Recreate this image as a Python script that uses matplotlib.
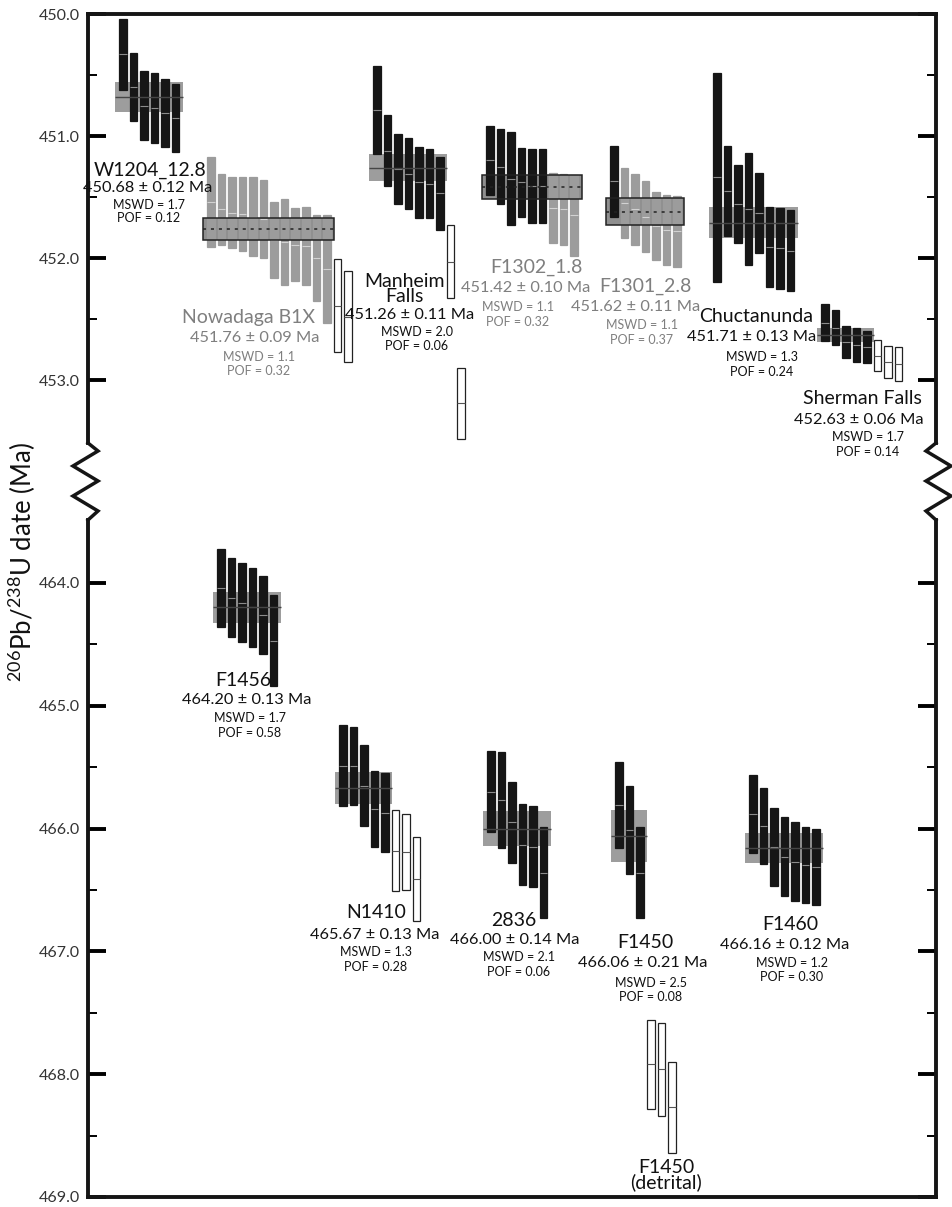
import matplotlib
matplotlib.use('Agg')
import matplotlib.pyplot as plt
from matplotlib.lines import Line2D
from matplotlib.ticker import MultipleLocator, FixedLocator, FormatStrFormatter

plt.rcParams['font.family'] = ['Lato', 'DejaVu Sans']
plt.rcParams['mathtext.fontset'] = 'custom'
plt.rcParams['mathtext.rm'] = 'Lato'

# ---- data: single-grain 206Pb/238U dates (Ma) and 2s errors ----
# kinds: k = used (black), g = used (grey series), o = excluded (open)
w1204 = [450.33, 450.60, 450.75, 450.77, 450.81, 450.85]
w1204_err = [0.29, 0.28, 0.28, 0.29, 0.28, 0.28]
w1204_kind = 'kkkkkk'

nowadaga = [451.54, 451.60, 451.63, 451.64, 451.66, 451.68, 451.85, 451.87,
            451.89, 451.90, 452.00, 452.09, 452.39, 452.48]
nowadaga_err = [0.37, 0.29, 0.29, 0.30, 0.32, 0.32, 0.31, 0.35, 0.30, 0.32,
                0.35, 0.44, 0.38, 0.37]
nowadaga_kind = 'gggggggggggg' + 'oo'

manheim = [450.79, 451.12, 451.27, 451.31, 451.38, 451.39, 451.47, 452.03, 453.19]
manheim_err = [0.36, 0.29, 0.29, 0.29, 0.29, 0.28, 0.30, 0.30, 0.29]
manheim_kind = 'kkkkkkkoo'

f1302 = [451.20, 451.25, 451.35, 451.38, 451.41, 451.41, 451.59, 451.60, 451.65]
f1302_err = [0.28, 0.31, 0.38, 0.28, 0.30, 0.30, 0.29, 0.29, 0.33]
f1302_kind = 'kkkkkkggg'

f1301 = [451.37, 451.55, 451.60, 451.66, 451.74, 451.77, 451.78]
f1301_err = [0.29, 0.29, 0.29, 0.29, 0.28, 0.29, 0.29]
f1301_kind = 'kgggggg'

chuct = [451.34, 451.45, 451.56, 451.60, 451.63, 451.91, 451.92, 451.94]
chuct_err = [0.86, 0.37, 0.32, 0.46, 0.33, 0.33, 0.33, 0.33]
chuct_kind = 'kkkkkkkk'

sherman = [452.53, 452.57, 452.69, 452.71, 452.73, 452.80, 452.85, 452.87]
sherman_err = [0.15, 0.14, 0.13, 0.14, 0.13, 0.13, 0.13, 0.14]
sherman_kind = 'kkkkkooo'

f1456 = [464.04, 464.12, 464.16, 464.20, 464.26, 464.47]
f1456_err = [0.32, 0.32, 0.32, 0.32, 0.32, 0.37]
f1456_kind = 'kkkkkk'

n1410 = [465.49, 465.49, 465.65, 465.84, 465.87, 466.18, 466.19, 466.41]
n1410_err = [0.33, 0.32, 0.33, 0.31, 0.32, 0.33, 0.31, 0.34]
n1410_kind = 'kkkkkooo'

s2836 = [465.70, 465.77, 465.95, 466.13, 466.15, 466.36]
s2836_err = [0.33, 0.39, 0.33, 0.33, 0.33, 0.37]
s2836_kind = 'kkkkkk'

f1450 = [465.81, 466.01, 466.36]
f1450_err = [0.35, 0.36, 0.37]
f1450_kind = 'kkk'

f1450_det = [467.92, 467.96, 468.27]
f1450_det_err = [0.36, 0.38, 0.37]
f1450_det_kind = 'ooo'

f1460 = [465.88, 465.98, 466.15, 466.23, 466.27, 466.30, 466.31]
f1460_err = [0.32, 0.31, 0.32, 0.32, 0.32, 0.31, 0.31]
f1460_kind = 'kkkkkkk'

# weighted means (None for the detrital group)
names = ['W1204_12.8', 'Nowadaga B1X', 'Manheim\nFalls', 'F1302_1.8', 'F1301_2.8',
         'Chuctanunda', 'Sherman Falls', 'F1456', 'N1410', '2836', 'F1450',
         'F1450\n(detrital)', 'F1460']
means = [450.68, 451.76, 451.26, 451.42, 451.62, 451.71, 452.63,
         464.20, 465.67, 466.00, 466.06, None, 466.16]
mean_err = [0.12, 0.09, 0.11, 0.10, 0.11, 0.13, 0.06,
            0.13, 0.13, 0.14, 0.21, None, 0.12]
mswd = ['1.7', '1.1', '2.0', '1.1', '1.1', '1.3', '1.7', '1.7', '1.3', '2.1', '2.5', None, '1.2']
pof = ['0.12', '0.32', '0.06', '0.32', '0.37', '0.24', '0.14', '0.58', '0.28', '0.06',
       '0.08', None, '0.30']

grain_dates = [w1204, nowadaga, manheim, f1302, f1301, chuct, sherman,
               f1456, n1410, s2836, f1450, f1450_det, f1460]
grain_errs = [w1204_err, nowadaga_err, manheim_err, f1302_err, f1301_err, chuct_err,
              sherman_err, f1456_err, n1410_err, s2836_err, f1450_err,
              f1450_det_err, f1460_err]
grain_kinds = [w1204_kind, nowadaga_kind, manheim_kind, f1302_kind, f1301_kind,
               chuct_kind, sherman_kind, f1456_kind, n1410_kind, s2836_kind,
               f1450_kind, f1450_det_kind, f1460_kind]

# ---- layout (figure pixels) ----
W, H = 952, 1207
X0, X1 = 88, 936
panel = [0, 0, 0, 0, 0, 0, 0, 1, 1, 1, 1, 1, 1]
x_start = [31, 119, 285, 398, 522, 625, 733, 129, 251, 399, 527, 559, 661]
grey_label = [False, True, False, True, True, False, False,
              False, False, False, False, False, False]
# label anchors: name (x, y), age line (x, y), stats x, mswd y, pof y
lab_name = [(150, 170), (248, 318), (404, 289), (536, 267), (645, 286), (756, 317),
            (862, 398), (243, 680), (376, 913), (514, 920), (645, 942), (666, 1175),
            (790, 924)]
lab_age = [(148, 188), (255, 338), (410, 315), (526, 288), (636, 307), (752, 337),
           (859, 420), (247, 700), (375, 935), (515, 940), (643, 963), None, (785, 945)]
lab_stat = [(149, 205, 218), (259, 357, 371), (417, 332, 346), (518, 307, 322),
            (642, 325, 340), (762, 357, 372), (868, 437, 452), (250, 718, 733),
            (376, 952, 967), (519, 957, 972), (651, 983, 997), None, (792, 963, 977)]

PITCH, BAR_W = 10.55, 7.6

fig = plt.figure(figsize=(W / 100, H / 100), dpi=100)
ax_top = fig.add_axes([X0 / W, 1 - 443 / H, (X1 - X0) / W, (443 - 14) / H])
ax_bot = fig.add_axes([X0 / W, 1 - 1197 / H, (X1 - X0) / W, (1197 - 520) / H])
ax_top.set_ylim(450 + (443 - 14) / 122, 450)
ax_bot.set_ylim(469.0, 464 - (583 - 520) / 123)
ax_top.yaxis.set_minor_locator(FixedLocator([450.5, 451.5, 452.5]))
ax_bot.yaxis.set_minor_locator(FixedLocator([464.5, 465.5, 466.5, 467.5, 468.5]))

for ax in (ax_top, ax_bot):
    ax.set_xlim(0, X1 - X0)
    ax.set_xticks([])
    ax.yaxis.set_major_locator(MultipleLocator(1))
    ax.yaxis.set_major_formatter(FormatStrFormatter('%.1f'))
    ax.tick_params(axis='y', which='major', direction='in', length=13, width=2.8,
                   right=True, labelsize=11.5, labelcolor='#333333', pad=6)
    ax.tick_params(axis='y', which='minor', direction='in', length=6.5, width=1.4,
                   right=True)
    for s in ax.spines.values():
        s.set_linewidth(2.8)
        s.set_color('#151515')
ax_top.spines['bottom'].set_visible(False)
ax_bot.spines['top'].set_visible(False)

axes = [ax_top, ax_bot]
for i in range(len(names)):
    ax = axes[panel[i]]
    xs = [x_start[i] + j * PITCH for j in range(len(grain_dates[i]))]
    greys = 'g' in grain_kinds[i]
    for x, d, e, k in zip(xs, grain_dates[i], grain_errs[i], grain_kinds[i]):
        if k == 'k':
            fc, ec, lc = '#161616', '#161616', '#8c8c8c'
        elif k == 'g':
            fc, ec, lc = '#9c9c9c', '#9c9c9c', '#d2d2d2'
        else:
            fc, ec, lc = 'white', '#222222', '#555555'
        ax.bar(x, 2 * e, bottom=d - e, width=BAR_W, align='edge', color=fc,
               edgecolor=ec, linewidth=0.9, zorder=3)
        ax.hlines(d, x, x + BAR_W, colors=lc, linewidth=0.8, zorder=4)

    if means[i] is not None:
        inc = [x for x, k in zip(xs, grain_kinds[i]) if k != 'o']
        bx0, bx1 = inc[0] - 4, inc[-1] + BAR_W + 3.5
        m, me = means[i], mean_err[i]
        if greys:
            ax.bar(bx0, 2 * me, bottom=m - me, width=bx1 - bx0, align='edge',
                   color='#8f8f8f', linewidth=0, zorder=2)
            ax.bar(bx0, 2 * me, bottom=m - me, width=bx1 - bx0, align='edge',
                   fill=False, edgecolor='#222222', linewidth=1.1, zorder=5)
            ax.hlines(m, bx0, bx1, colors='#222222', linewidth=1.1,
                      linestyles=(0, (2, 3.2)), zorder=5)
        else:
            ax.bar(bx0, 2 * me, bottom=m - me, width=bx1 - bx0, align='edge',
                   color='#9d9d9d', linewidth=0, zorder=2)
            ax.hlines(m, bx0, bx1, colors='#454545', linewidth=1.0, zorder=4)

    # sample labels
    tc = '#7f7f7f' if grey_label[i] else '#111111'
    nx, ny = lab_name[i]
    fig.text(nx / W, 1 - ny / H, names[i], ha='center', va='center', fontsize=14,
             color=tc, linespacing=0.85)
    if lab_age[i] is not None:
        axx, ayy = lab_age[i]
        fig.text(axx / W, 1 - ayy / H, f'{means[i]:.2f} \u00b1 {mean_err[i]:.2f} Ma',
                 ha='center', va='center', fontsize=11.8, color=tc)
        sx, my, py = lab_stat[i]
        fig.text(sx / W, 1 - my / H, f'MSWD = {mswd[i]}', ha='center', va='center',
                 fontsize=9, color=tc)
        fig.text(sx / W, 1 - py / H, f'POF = {pof[i]}', ha='center', va='center',
                 fontsize=9, color=tc)

# axis break zigzags
zig_y = [443, 451, 466, 481, 496, 511, 520]
left_x = [88, 98, 73, 98, 73, 98, 88]
right_x = [936, 926, 951, 926, 951, 926, 936]
for xs_ in (left_x, right_x):
    fig.add_artist(Line2D([x / W for x in xs_], [1 - y / H for y in zig_y],
                          color='#151515', linewidth=2.5, solid_joinstyle='miter'))

fig.text(22 / W, 1 - 562 / H, r'$^{206}$Pb/$^{238}$U date (Ma)', rotation=90,
         ha='center', va='center', fontsize=18.5, color='#111111')

fig.savefig('out.png', dpi=100)
